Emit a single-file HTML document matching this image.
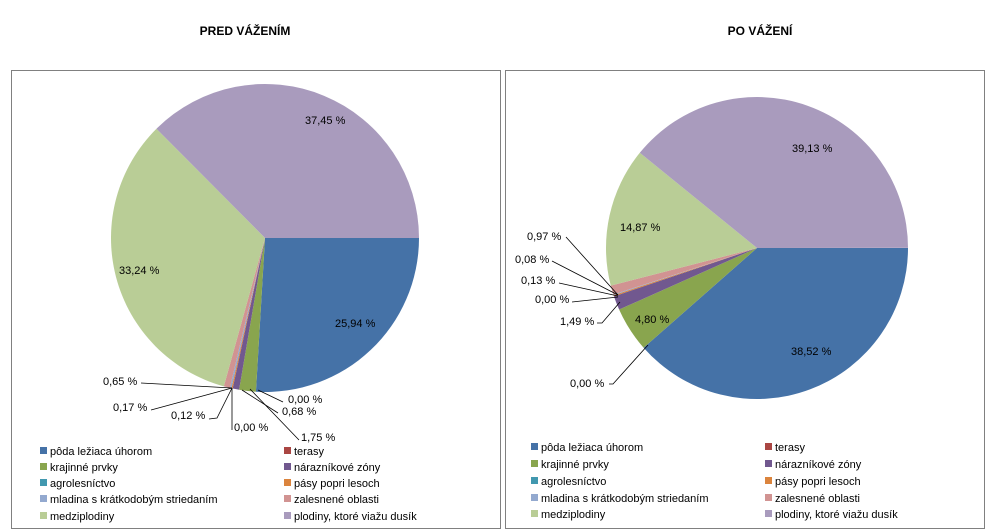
<!DOCTYPE html>
<html><head><meta charset="utf-8"><style>
body{margin:0;background:#fff;}
svg{display:block;font-family:"Liberation Sans",sans-serif;}
</style></head><body>
<svg id="s" width="988" height="532" xmlns="http://www.w3.org/2000/svg">
<rect x="0" y="0" width="988" height="532" fill="#fff"/>
<rect x="11.5" y="70.5" width="489" height="458" fill="none" stroke="#808080"/>
<rect x="505.5" y="70.5" width="479" height="458" fill="none" stroke="#808080"/>
<text x="245" y="35" font-size="12" font-weight="bold" text-anchor="middle">PRED VÁŽENÍM</text>
<text x="760" y="35" font-size="12" font-weight="bold" text-anchor="middle">PO VÁŽENÍ</text>
<g id="p1"></g><g id="p2"></g>
<g stroke="#000" stroke-width="0.8" fill="none">
<polyline points="141,383 232,388"/>
<polyline points="151,410 232,388"/>
<polyline points="209,419 217,418 232,388"/>
<polyline points="232,430 232,388"/>
<polyline points="299,440 250,389"/>
<polyline points="278,413 242,390"/>
<polyline points="283,402 258,390"/>
<polyline points="566,237 618,295"/>
<polyline points="552,261 618,295"/>
<polyline points="559,283 618,296"/>
<polyline points="572,302 618,297"/>
<polyline points="597,323 602,323 620,302"/>
<polyline points="609,384 613,384 648,345"/>
</g>
<g font-size="11" fill="#000">
<text x="103" y="385">0,65 %</text>
<text x="113" y="411">0,17 %</text>
<text x="171" y="419">0,12 %</text>
<text x="234" y="431">0,00 %</text>
<text x="301" y="441">1,75 %</text>
<text x="282" y="415">0,68 %</text>
<text x="288" y="403">0,00 %</text>
<text x="305" y="124">37,45 %</text>
<text x="119" y="274">33,24 %</text>
<text x="335" y="327">25,94 %</text>
<text x="527" y="240">0,97 %</text>
<text x="515" y="263">0,08 %</text>
<text x="521" y="284">0,13 %</text>
<text x="535" y="303">0,00 %</text>
<text x="560" y="325">1,49 %</text>
<text x="570" y="387">0,00 %</text>
<text x="792" y="152">39,13 %</text>
<text x="620" y="231">14,87 %</text>
<text x="635" y="323">4,80 %</text>
<text x="791" y="355">38,52 %</text>
</g>
<g id="lg" font-size="11"></g>
</svg>
<script>
var C=["#4572A7","#AA4643","#89A54E","#71588F","#4198AF","#DB843D","#93A9CF","#D19392","#B9CD96","#A99BBD"];
var N=["pôda ležiaca úhorom","terasy","krajinné prvky","nárazníkové zóny","agrolesníctvo","pásy popri lesoch","mladina s krátkodobým striedaním","zalesnené oblasti","medziplodiny","plodiny, ktoré viažu dusík"];
function pie(id,cx,cy,r,v){var g=document.getElementById(id),a=0,h="";
v.forEach(function(x,i){if(x<=0)return;var b=a+x/100*2*Math.PI;
var x1=cx+r*Math.cos(a),y1=cy+r*Math.sin(a),x2=cx+r*Math.cos(b),y2=cy+r*Math.sin(b);
h+='<path d="M'+cx+','+cy+'L'+x1+','+y1+'A'+r+','+r+' 0 '+((b-a)>Math.PI?1:0)+' 1 '+x2+','+y2+'Z" fill="'+C[i]+'"/>';a=b;});
g.innerHTML=h;}
pie("p1",265,238,154,[25.94,0,1.75,0.68,0,0.12,0.17,0.65,33.24,37.45]);
pie("p2",757,248,151,[38.52,0,4.80,1.49,0,0.13,0.08,0.97,14.87,39.13]);
var h="";
function leg(x1,x2,ys){for(var i=0;i<10;i++){var x=i%2?x2:x1,y=ys[i>>1];
h+='<rect x="'+x+'" y="'+(y-4)+'" width="7" height="7" fill="'+C[i]+'"/><text x="'+(x+10)+'" y="'+(y+4)+'">'+N[i]+'</text>';}}
leg(40,284,[451,467,483,499,516]);
leg(531,765,[447,464,481,498,514]);
document.getElementById("lg").innerHTML=h;
</script>
</body></html>
